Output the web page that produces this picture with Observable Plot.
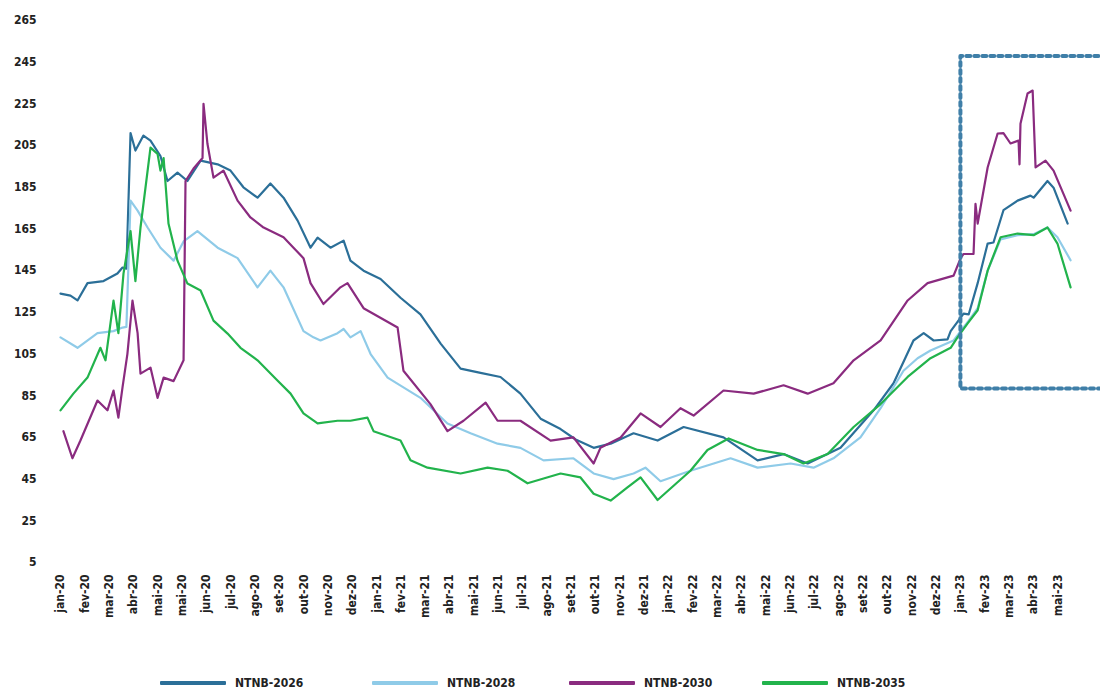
<!DOCTYPE html>
<html>
<head>
<meta charset="utf-8">
<script src="https://cdn.jsdelivr.net/npm/d3@7"></script>
<script src="https://cdn.jsdelivr.net/npm/@observablehq/plot@0.6"></script>
<style>
  html, body { margin: 0; padding: 0; background: #fff; overflow: hidden; }
  #chart { width: 1100px; height: 650px; }
  #legend { position: relative; width: 1100px; height: 43px; font-family: "DejaVu Sans Condensed", "DejaVu Sans", sans-serif; font-weight: bold; font-size: 12px; color: #222; }
  .item { position: absolute; top: 26px; display: flex; align-items: center; gap: 9px; }
  .sw { width: 66px; height: 4px; border-radius: 1px; }
</style>
</head>
<body>
<div id="chart"></div>
<div id="legend"></div>
<script>
const seriesNames = ["NTNB-2026", "NTNB-2028", "NTNB-2030", "NTNB-2035"];
const seriesColors = ["#2b6f98", "#8fcbe8", "#8a2b7f", "#22b34c"];

const xLabels = ["jan-20","fev-20","mar-20","abr-20","mai-20","mai-20","jun-20","jul-20","ago-20","set-20","out-20","nov-20","dez-20",
  "jan-21","fev-21","mar-21","abr-21","mai-21","jun-21","jul-21","ago-21","set-21","out-21","nov-21","dez-21",
  "jan-22","fev-22","mar-22","abr-22","mai-22","jun-22","jul-22","ago-22","set-22","out-22","nov-22","dez-22",
  "jan-23","fev-23","mar-23","abr-23","mai-23"];
const yTicks = [5,25,45,65,85,105,125,145,165,185,205,225,245,265];

// [position on the monthly axis (tick index), value]
const ntnb2026 = [[0,134],[0.41,133],[0.70,130.7],[1.11,139],[1.77,140],[2.34,143.6],[2.55,146.5],[2.71,146],[2.88,211],[3.08,202.6],[3.41,209.8],[3.70,207.4],[4.11,200],[4.40,188],[4.81,192],[5.22,188],[5.76,197.8],[6.46,196],[6.99,193],[7.52,185],[8.10,180],[8.63,186.8],[9.17,180],[9.75,169],[10.28,156],[10.57,160.8],[11.10,156],[11.64,159.4],[11.92,149.8],[12.46,145],[13.16,141],[13.98,132],[14.80,124],[15.63,110],[16.45,98],[17.27,96],[18.09,94],[18.91,86],[19.74,74],[20.56,69],[21.18,64],[21.92,60],[22.62,62],[23.56,67],[24.55,63.5],[25.62,70],[27.26,65],[28.66,54],[29.73,57],[30.72,52.5],[32.07,60],[33.43,78],[34.25,91],[35.07,111.5],[35.49,115],[35.90,111.5],[36.47,112],[36.60,116],[37.13,124.4],[37.34,124],[37.71,139],[38.12,158],[38.36,158.5],[38.77,174],[39.35,178.6],[39.88,181],[40.01,180],[40.58,188],[40.83,184.8],[41.41,167.6]];
const ntnb2028 = [[0,113],[0.70,108],[1.52,115],[2.18,116],[2.55,117.7],[2.71,118],[2.88,178.6],[3.17,173.8],[3.58,165.7],[4.11,156],[4.65,149.8],[5.06,159],[5.63,164],[6.46,156],[7.28,151],[8.10,137],[8.63,145],[9.17,137],[9.99,116],[10.40,113],[10.69,111.5],[11.39,115],[11.64,117],[11.92,113],[12.34,116],[12.75,105],[13.45,93.7],[14.80,84],[15.91,71.7],[16.86,67],[17.97,62],[18.91,60],[19.86,54],[21.09,55],[21.92,47.7],[22.74,45],[23.56,47.7],[24.05,50.5],[24.67,44],[25.90,49],[27.55,55],[28.66,50.5],[30.02,52.5],[30.96,50.5],[31.78,55],[32.89,65],[33.72,79],[34.66,97],[35.24,103],[35.77,106.7],[36.72,111.5],[37.34,121],[37.71,127],[38.12,145],[38.65,160],[39.35,162],[40.01,162.5],[40.58,165.7],[40.99,161],[41.53,150]];
const ntnb2030 = [[0.12,68],[0.49,55],[0.82,63.5],[1.52,82.7],[1.93,78],[2.18,87.5],[2.38,74.5],[2.55,89],[2.75,105],[2.96,130.6],[3.17,115],[3.29,95.6],[3.70,98.5],[3.99,84],[4.24,93.7],[4.65,92],[5.06,102],[5.14,188],[5.47,194],[5.84,199],[5.88,225],[6.04,206],[6.29,189.6],[6.70,193],[7.28,178.6],[7.81,170.5],[8.35,165.7],[9.17,161],[9.58,156],[9.99,151],[10.28,139],[10.81,129],[11.51,137],[11.80,139],[12.46,127],[13.86,117.7],[14.10,97],[15.21,81],[15.91,68],[16.57,73],[17.48,81.7],[17.97,73],[18.91,73],[20.15,63.5],[21.09,65],[21.92,52.5],[22.20,60],[23.03,65],[23.85,76.5],[24.67,70],[25.49,79],[26.03,75.5],[27.26,87.5],[28.50,86],[29.73,90],[30.72,86],[31.78,91],[32.61,102],[33.72,111.5],[34.83,130.7],[35.65,139],[36.72,142.6],[37.01,151],[37.13,153],[37.54,153],[37.62,177],[37.71,167.6],[38.12,194.5],[38.53,210.8],[38.77,211],[39.06,206],[39.39,207.4],[39.43,196],[39.47,215.5],[39.76,230],[39.97,231.4],[40.09,194.5],[40.50,197.8],[40.83,193],[41.53,173.8]];
const ntnb2035 = [[0,78],[0.53,86],[1.11,93.7],[1.64,108],[1.85,102],[2.18,130.6],[2.38,115],[2.59,143.6],[2.88,164],[3.08,140],[3.29,165.7],[3.70,204],[3.99,201],[4.11,193],[4.24,199],[4.44,167.6],[4.81,149.8],[5.22,138.8],[5.76,135.5],[6.29,121],[6.87,114.8],[7.40,108],[8.10,102],[8.92,92.3],[9.46,86],[9.99,76.5],[10.57,71.7],[11.39,73],[11.92,73],[12.62,74.5],[12.87,68],[13.98,63.5],[14.39,54],[15.09,50.5],[16.45,47.7],[17.56,50.5],[18.38,49],[19.20,43],[20.56,47.7],[21.38,45.8],[21.92,38],[22.62,34.7],[23.31,41],[23.85,45.8],[24.55,35],[25.90,49],[26.60,59],[27.47,64.5],[28.66,59],[29.73,57],[30.55,52.5],[31.54,57],[32.61,70],[33.72,81],[34.83,94],[35.77,103],[36.60,108],[36.88,113],[37.29,119.6],[37.71,126],[38.12,145],[38.65,161],[39.35,162.8],[40.01,162],[40.58,165.7],[40.99,158],[41.53,137]];

// dotted highlight box (open on the right, extends past the edge)
const boxX = [43, 37.0, 37.0, 43];
const boxY = [248, 248, 88.5, 88.5];

const seriesData = [ntnb2026, ntnb2028, ntnb2030, ntnb2035];
const rows = seriesData.flatMap((pts, i) => pts.map(([t, v]) => ({series: seriesNames[i], t, v})));
const boxRows = boxX.map((x, i) => ({x, y: boxY[i]}));

const chart = Plot.plot({
  width: 1100,
  height: 650,
  marginTop: 20,
  marginBottom: 88,
  marginLeft: 50,
  marginRight: 0,
  style: {fontFamily: "'DejaVu Sans Condensed', 'DejaVu Sans', sans-serif", fontSize: "12px", fontWeight: "bold", color: "#222", background: "white", overflow: "hidden"},
  x: {domain: [-0.411, 42.76], ticks: d3.range(xLabels.length), tickFormat: i => xLabels[i], tickRotate: -90, tickSize: 0, tickPadding: 12, label: null},
  y: {domain: [5, 265], ticks: yTicks, tickSize: 0, tickPadding: 14, label: null},
  color: {domain: seriesNames, range: seriesColors},
  marks: [
    Plot.line(rows, {x: "t", y: "v", z: "series", stroke: "series", strokeWidth: 2.2, strokeLinejoin: "round"}),
    Plot.line(boxRows, {x: "x", y: "y", stroke: "#3f7fa8", strokeWidth: 4, strokeDasharray: "4 4"})
  ]
});
document.getElementById("chart").appendChild(chart);

const legend = document.getElementById("legend");
const lefts = [160, 372, 569, 762];
seriesNames.forEach((name, i) => {
  const it = document.createElement("div");
  it.className = "item";
  it.style.left = lefts[i] + "px";
  it.innerHTML = `<span class="sw" style="background:${seriesColors[i]}"></span><span>${name}</span>`;
  legend.appendChild(it);
});
</script>
</body>
</html>
